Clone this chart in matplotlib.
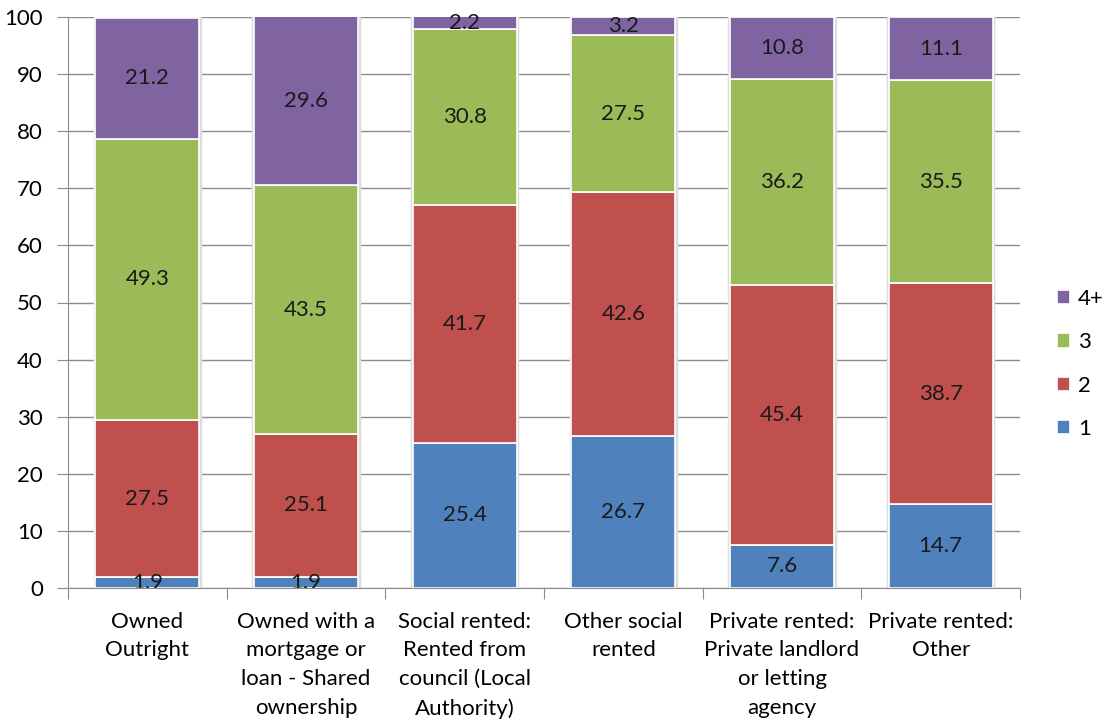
import numpy as np
import matplotlib.pyplot as plt

categories = ['Owned\nOutright', 'Owned with a\nmortgage or\nloan - Shared\nownership',
              'Social rented:\nRented from\ncouncil (Local\nAuthority)', 'Other social\nrented',
              'Private rented:\nPrivate landlord\nor letting\nagency', 'Private rented:\nOther']
series_names = ['1', '2', '3', '4+']
s1 = [1.9, 1.9, 25.4, 26.7, 7.6, 14.7]
s2 = [27.5, 25.1, 41.7, 42.6, 45.4, 38.7]
s3 = [49.3, 43.5, 30.8, 27.5, 36.2, 35.5]
s4 = [21.2, 29.6, 2.2, 3.2, 10.8, 11.1]
colors = ['#4F81BD', '#C0504D', '#9BBB59', '#8064A2']

plt.rcParams['font.family'] = ['Lato', 'DejaVu Sans']
fsize = 16

fig = plt.figure(figsize=(11.08, 7.24), dpi=100)
ax = fig.add_axes([68 / 1108, 1 - 588 / 724, (1020 - 68) / 1108, (588 - 17) / 724])

x = np.arange(len(categories))
ax.set_xlim(-0.5, len(categories) - 0.5)
ax.set_ylim(0, 100)
ax.set_yticks(range(0, 101, 10))

# horizontal gridlines at the y ticks
ax.hlines(ax.get_yticks(), 0, 1, transform=ax.get_yaxis_transform(),
          colors='#8c8c8c', linewidth=1, zorder=1)

bottom = np.zeros(len(categories))
handles = []
for name, vals, c in zip(series_names, [s1, s2, s3, s4], colors):
    vals = np.array(vals)
    # faint grey outline like the Excel bar shadow
    ax.bar(x, vals, 0.665, bottom=bottom, color='none', edgecolor='#dddddd', linewidth=2.5, zorder=2)
    b = ax.bar(x, vals, 0.655, bottom=bottom, color=c, edgecolor='white', linewidth=1.2,
               label=name, zorder=3)
    handles.append(b)
    for xi, v, bt in zip(x, vals, bottom):
        ax.text(xi, bt + v / 2, '%.1f' % v, ha='center', va='center', fontsize=fsize,
                color='#1a1a1a', zorder=4)
    bottom += vals

ax.set_xticks(np.arange(-0.5, len(categories), 1), minor=False)
ax.set_xticklabels([])
ax.set_xticks(x, minor=True)
ax.set_xticklabels(categories, minor=True, fontsize=fsize, linespacing=1.55)
ax.tick_params(axis='x', which='minor', length=0, pad=17)
ax.tick_params(axis='x', which='major', length=8, color='#8c8c8c')
ax.tick_params(axis='y', labelsize=fsize, length=8, color='#8c8c8c', pad=10)
for s in ['top', 'right']:
    ax.spines[s].set_visible(False)
for s in ['left', 'bottom']:
    ax.spines[s].set_color('#8c8c8c')
    ax.spines[s].set_zorder(5)

fig.legend(handles[::-1], series_names[::-1], loc='center left',
           bbox_to_anchor=(1057 / 1108, 1 - 364 / 724), borderpad=0, borderaxespad=0,
           frameon=False, fontsize=fsize, handlelength=0.6, handleheight=0.6,
           labelspacing=1.05, handletextpad=0.35)

fig.savefig('out.png', dpi=100)
